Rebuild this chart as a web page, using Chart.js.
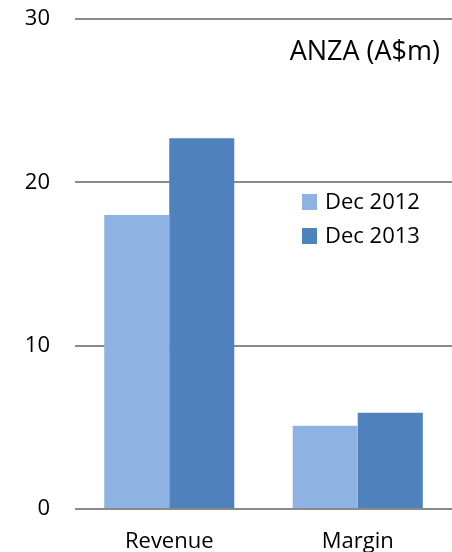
<!DOCTYPE html>
<html>
<head>
<meta charset="utf-8">
<script src="https://cdn.jsdelivr.net/npm/chart.js@4.4.1/dist/chart.umd.min.js"></script>
<style>
  html, body { margin: 0; padding: 0; background: #fff; }
  #wrap { width: 452px; height: 552px; }
</style>
</head>
<body>
<div id="wrap"><canvas id="myChart" width="452" height="552"></canvas></div>
<script>
const categories = ["Revenue", "Margin"];
const dec2012 = [18.0, 5.1];
const dec2013 = [22.7, 5.9];
const seriesNames = ["Dec 2012", "Dec 2013"];
const yTicks = [0, 10, 20, 30];
const chartTitle = "ANZA (A$m)";

const fontFamily = "'Open Sans', 'Noto Sans', sans-serif";

// title and legend sit inside the plot area, so draw them by hand
const insideText = {
  id: "insideText",
  afterDraw(chart) {
    const ctx = chart.ctx;
    ctx.save();
    ctx.fillStyle = "#000";
    ctx.textBaseline = "middle";

    ctx.font = "27px " + fontFamily;
    ctx.textAlign = "right";
    ctx.fillText(chartTitle, 440, 52);

    ctx.font = "22px " + fontFamily;
    ctx.textAlign = "left";
    chart.data.datasets.forEach((ds, i) => {
      const y = 202 + i * 34;
      ctx.fillStyle = ds.backgroundColor;
      ctx.fillRect(302, y - 8, 15, 16);
      ctx.fillStyle = "#000";
      ctx.fillText(ds.label, 325, y + 1);
    });
    ctx.restore();
  }
};

const ctx = document.getElementById("myChart").getContext("2d");
const myChart = new Chart(ctx, {
  type: "bar",
  data: {
    labels: categories,
    datasets: [
      { label: seriesNames[0], data: dec2012, backgroundColor: "#8EB3E2" },
      { label: seriesNames[1], data: dec2013, backgroundColor: "#4F81BD" }
    ]
  },
  options: {
    responsive: false,
    animation: false,
    layout: { padding: { top: 19, right: 0, left: 0, bottom: 0 } },
    datasets: {
      bar: { categoryPercentage: 0.69, barPercentage: 1.0 }
    },
    plugins: {
      legend: { display: false },
      tooltip: { enabled: false }
    },
    scales: {
      x: {
        grid: { display: false },
        border: { display: false },
        ticks: {
          color: "#000",
          padding: 12,
          font: { family: fontFamily, size: 22 }
        },
        afterFit(scale) {
          scale.height = 43;
          scale.paddingLeft = 0;
          scale.paddingRight = 0;
        }
      },
      y: {
        min: 0,
        max: 30,
        afterBuildTicks(scale) { scale.ticks = yTicks.map(v => ({ value: v })); },
        grid: { color: "#8a8a8a", lineWidth: 2, drawTicks: false },
        border: { display: false },
        ticks: {
          color: "#000",
          padding: 25,
          font: { family: fontFamily, size: 22 }
        },
        afterFit(scale) {
          scale.width = 75;
          scale.paddingTop = 0;
          scale.paddingBottom = 0;
        }
      }
    }
  },
  plugins: [insideText]
});
</script>
</body>
</html>
